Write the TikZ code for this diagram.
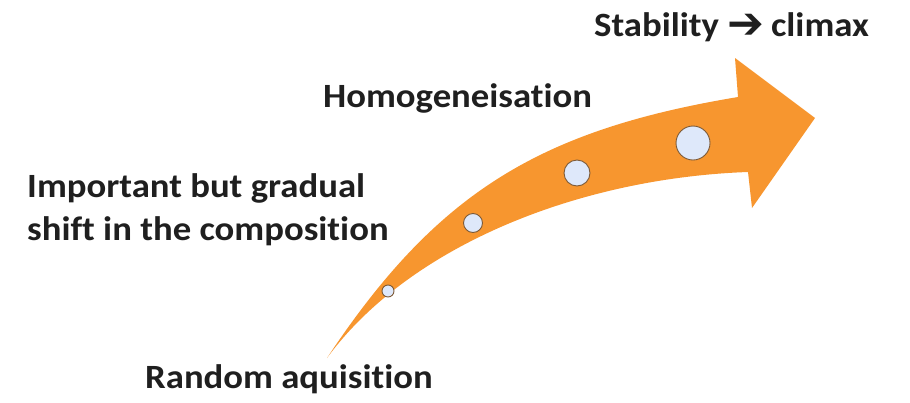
\documentclass[tikz,border=0pt]{standalone}
\usepackage{fontspec}
\setmainfont{Carlito}[FakeStretch=1.08,Ligatures=NoCommon]
\newfontfamily\symfont{DejaVu Sans}
\definecolor{arroworange}{RGB}{247,150,47}
\definecolor{dotfill}{RGB}{222,232,250}
\definecolor{dotedge}{RGB}{125,90,55}
\tikzset{
  lbl/.style={font=\fontsize{34}{40}\selectfont\bfseries, text=black!88, inner sep=0pt, anchor=base west},
  dot/.style={circle, fill=dotfill, draw=dotedge, line width=0.9pt, inner sep=0pt}
}
\begin{document}
\begin{tikzpicture}[x=1pt,y=-1pt]
\useasboundingbox (0,0) rectangle (910,402);
% arrow body
\fill[arroworange]
  (327,358) .. controls (437,192) and (540,130) .. (738,97)
  -- (735,58) -- (815,118) -- (752,208) -- (748,172)
  .. controls (580,178) and (410,245) .. (327,358) -- cycle;
% dots
\node[dot, minimum size=12pt] (d1) at (388,291) {};
\node[dot, minimum size=19pt] (d2) at (473,223) {};
\node[dot, minimum size=26pt] (d3) at (577,173) {};
\node[dot, minimum size=34pt] (d4) at (693,143) {};
% labels
\node[lbl] (stab) at (594,36) {Stability\hspace{0.25em}\raisebox{-2pt}{\symfont\fontsize{44}{44}\selectfont ➔}\hspace{0.2em}climax};
\node[lbl] (homo) at (323,107) {Homogeneisation};
\node[lbl] (shift1) at (27,197) {Important but gradual};
\node[lbl] (shift2) at (27,240) {shift in the composition};
\node[lbl] (rand) at (145,388) {Random aquisition};
\end{tikzpicture}
\end{document}
